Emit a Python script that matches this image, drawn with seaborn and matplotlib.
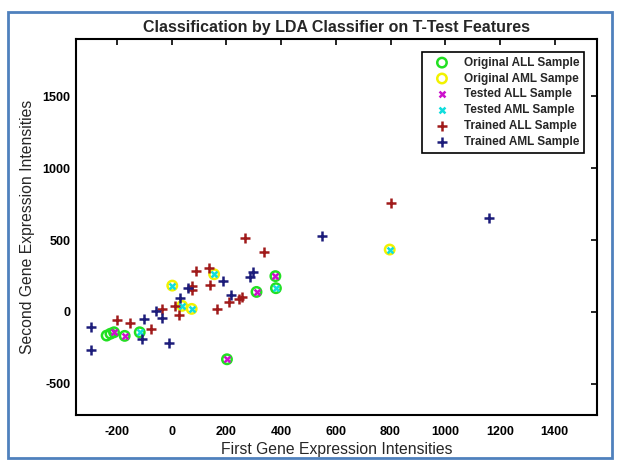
import matplotlib
matplotlib.use("Agg")
import matplotlib.pyplot as plt
import seaborn as sns
import pandas as pd
from matplotlib.patches import Rectangle

# ---- data ----
orig_all_x = [-238, -224, -211, -172, -117, 202, 310, 379, 381]
orig_all_y = [-165, -152, -142, -167, -142, -330, 139, 249, 165]

orig_aml_x = [2, 38, 73, 155, 797]
orig_aml_y = [183, 42, 21, 262, 434]

test_all_x = [-211, -172, 202, 310, 379]
test_all_y = [-142, -167, -330, 139, 249]

test_aml_x = [2, 38, 73, 155, 797, -117, 381]
test_aml_y = [183, 42, 21, 262, 434, -142, 165]

train_all_x = [-200, -151, -74, -36, 11, 26, 74, 73, 90, 135, 139, 166, 209, 245, 257, 268, 338, 802]
train_all_y = [-60, -74, -116, 19, 40, -24, 181, 153, 285, 304, 190, 19, 72, 90, 102, 513, 416, 757]

train_aml_x = [-294, -294, -102, -107, -56, -37, -10, 32, 60, 188, 217, 285, 297, 550, 1161]
train_aml_y = [-102, -265, -47, -190, 7, -44, -218, 95, 168, 218, 115, 246, 281, 531, 656]

labels = ["Original ALL Sample", "Original AML Sampe", "Tested ALL Sample",
          "Tested AML Sample", "Trained ALL Sample", "Trained AML Sample"]

x_ticks = [-200, 0, 200, 400, 600, 800, 1000, 1200, 1400]
y_ticks = [-500, 0, 500, 1000, 1500]

sns.set_theme(style="white")
plt.rcParams['font.family'] = ['Liberation Sans', 'DejaVu Sans']
plt.rcParams['axes.unicode_minus'] = False

fig = plt.figure(figsize=(6.18, 4.65), dpi=100)
ax = fig.add_axes([76/618, 1-415/465, (597-76)/618, (415-39)/465])

series = [
    (orig_all_x, orig_all_y, "o", "#22e022", True, 46),
    (orig_aml_x, orig_aml_y, "o", "#f2f200", True, 46),
    (test_all_x, test_all_y, "x", "#cc11cc", False, 18),
    (test_aml_x, test_aml_y, "x", "#11dddd", False, 18),
    (train_all_x, train_all_y, "+", "#a01a1a", False, 55),
    (train_aml_x, train_aml_y, "+", "#1c1c7a", False, 55),
]

for (xs, ys, m, c, hollow, s), lab in zip(series, labels):
    df = pd.DataFrame({"x": xs, "y": ys})
    if hollow:
        sns.scatterplot(data=df, x="x", y="y", ax=ax, marker=m, s=s,
                        facecolor="none", edgecolor=c, linewidth=1.8, label=lab)
    else:
        sns.scatterplot(data=df, x="x", y="y", ax=ax, marker=m, s=s,
                        color=c, linewidth=1.8, label=lab)

ax.set_xlim(-350, 1555)
ax.set_ylim(-718, 1900)
ax.set_xticks(x_ticks)
ax.set_yticks(y_ticks)
ax.tick_params(direction="in", length=4, width=1.2, top=True, right=True,
               labelsize=9, colors="black")
ax.tick_params(axis="x", pad=8)
ax.tick_params(axis="y", pad=4)
for t in ax.get_xticklabels() + ax.get_yticklabels():
    t.set_fontweight("bold")
for sp in ax.spines.values():
    sp.set_visible(True)
    sp.set_color("black")
    sp.set_linewidth(1.5)

ax.set_title("Classification by LDA Classifier on T-Test Features",
             fontsize=11.5, fontweight="bold", pad=5)
ax.set_xlabel("First Gene Expression Intensities", fontsize=11.3, labelpad=3)
ax.set_ylabel("Second Gene Expression Intensities", fontsize=11.3, labelpad=5)

leg = ax.legend(loc="upper right", fontsize=8.5, frameon=True, fancybox=False,
                edgecolor="black", framealpha=1, borderpad=0.4, labelspacing=0.33,
                handlelength=2.6, handletextpad=0.55, borderaxespad=1.1)
leg.get_frame().set_linewidth(1.2)
for t in leg.get_texts():
    t.set_fontweight("bold")

# figure border as in the reference
fig.patches.append(Rectangle((8/618, 1-458/465), (612-8)/618, (458-12)/465,
                             transform=fig.transFigure, fill=False,
                             edgecolor="#4f81bd", linewidth=2))

fig.savefig("out.png", dpi=100)
